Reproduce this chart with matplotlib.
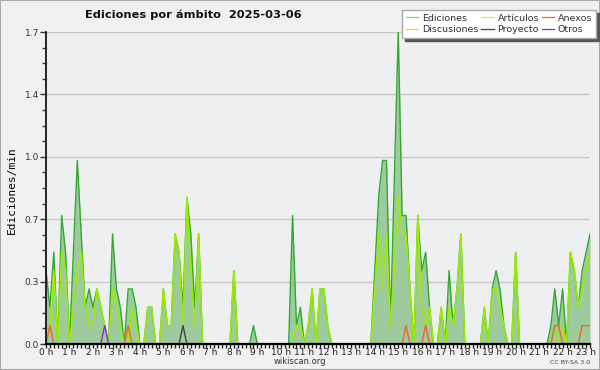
import numpy as np
import matplotlib
matplotlib.use("Agg")
import matplotlib.pyplot as plt
from matplotlib.lines import Line2D
from matplotlib.patches import Rectangle
from matplotlib.ticker import MultipleLocator

# edits per minute, one value per 10 minutes, starting at 0 h
title = "Ediciones por ámbito  2025-03-06"
hour_labels = [f"{h} h" for h in range(24)]
y_max = 1.7

ediciones = [
    0.4, 0.2, 0.5, 0, 0.7, 0.5, 0, 0.5, 1.0, 0.6, 0.2, 0.3,
    0.2, 0.3, 0.2, 0.1, 0, 0.6, 0.3, 0.2, 0, 0.3, 0.3, 0.2,
    0, 0, 0.2, 0.2, 0, 0, 0.3, 0.1, 0.1, 0.6, 0.5, 0.2,
    0.8, 0.6, 0.2, 0.6, 0, 0, 0, 0, 0, 0, 0, 0,
    0.4, 0, 0, 0, 0, 0.1, 0, 0, 0, 0, 0, 0,
    0, 0, 0, 0.7, 0.1, 0.2, 0, 0.1, 0.3, 0, 0.3, 0.3,
    0.1, 0, 0, 0, 0, 0, 0, 0, 0, 0, 0, 0,
    0.4, 0.8, 1.0, 1.0, 0.1, 0.9, 1.7, 0.7, 0.7, 0.3, 0, 0.7,
    0.4, 0.5, 0.2, 0, 0, 0.2, 0, 0.4, 0.1, 0.3, 0.6, 0,
    0, 0, 0, 0, 0.2, 0, 0.3, 0.4, 0.3, 0.1, 0, 0,
    0.5, 0, 0, 0, 0, 0, 0, 0, 0, 0.1, 0.3, 0.1,
    0.3, 0, 0.5, 0.4, 0.2, 0.4, 0.5, 0.6,
]
articulos = [
    0.1, 0.1, 0.4, 0, 0.5, 0.4, 0, 0.2, 0.4, 0.5, 0.2, 0.1,
    0.1, 0.3, 0.2, 0.1, 0, 0.3, 0.2, 0.1, 0, 0, 0.2, 0.1,
    0, 0, 0.2, 0.2, 0, 0, 0.3, 0.1, 0.1, 0.6, 0.5, 0.1,
    0.8, 0.4, 0.1, 0.6, 0, 0, 0, 0, 0, 0, 0, 0,
    0.4, 0, 0, 0, 0, 0, 0, 0, 0, 0, 0, 0,
    0, 0, 0, 0, 0.1, 0.1, 0, 0.1, 0.3, 0, 0.3, 0.3,
    0.1, 0, 0, 0, 0, 0, 0, 0, 0, 0, 0, 0,
    0.3, 0.6, 0.3, 0.6, 0.1, 0.4, 0.8, 0.6, 0.6, 0.3, 0, 0.7,
    0.2, 0.1, 0.2, 0, 0, 0.2, 0, 0.2, 0.1, 0.3, 0.6, 0,
    0, 0, 0, 0, 0.2, 0, 0.3, 0.3, 0.2, 0.1, 0, 0,
    0.5, 0, 0, 0, 0, 0, 0, 0, 0, 0, 0.1, 0,
    0.1, 0, 0.5, 0.4, 0.2, 0.3, 0.4, 0.5,
]
anexos = [
    0, 0.1, 0, 0, 0, 0, 0, 0, 0, 0, 0, 0,
    0, 0, 0, 0, 0, 0, 0, 0, 0, 0.1, 0, 0,
    0, 0, 0, 0, 0, 0, 0, 0, 0, 0, 0, 0,
    0, 0, 0, 0, 0, 0, 0, 0, 0, 0, 0, 0,
    0, 0, 0, 0, 0, 0, 0, 0, 0, 0, 0, 0,
    0, 0, 0, 0, 0, 0, 0, 0, 0, 0, 0, 0,
    0, 0, 0, 0, 0, 0, 0, 0, 0, 0, 0, 0,
    0, 0, 0, 0, 0, 0, 0, 0, 0.1, 0, 0, 0,
    0, 0.1, 0, 0, 0, 0, 0, 0, 0, 0, 0, 0,
    0, 0, 0, 0, 0, 0, 0, 0, 0, 0, 0, 0,
    0, 0, 0, 0, 0, 0, 0, 0, 0, 0, 0.1, 0.1,
    0, 0, 0, 0, 0, 0.1, 0.1, 0.1,
]
discusiones = [
    0, 0, 0, 0, 0, 0, 0, 0, 0, 0, 0, 0,
    0, 0, 0, 0, 0, 0, 0, 0, 0, 0, 0, 0,
    0, 0, 0, 0, 0, 0, 0, 0, 0, 0, 0, 0,
    0, 0, 0, 0, 0, 0, 0, 0, 0, 0, 0, 0,
    0, 0, 0, 0, 0, 0, 0, 0, 0, 0, 0, 0,
    0, 0, 0, 0, 0, 0, 0, 0, 0, 0, 0, 0,
    0, 0, 0, 0, 0, 0, 0, 0, 0, 0, 0, 0,
    0, 0, 0, 0, 0, 0, 0, 0, 0, 0, 0, 0,
    0, 0, 0, 0, 0, 0, 0, 0, 0, 0, 0, 0,
    0, 0, 0, 0, 0, 0, 0, 0, 0, 0, 0, 0,
    0, 0, 0, 0, 0, 0, 0, 0, 0, 0, 0, 0,
    0, 0, 0, 0, 0, 0, 0, 0,
]
proyecto = [
    0, 0, 0, 0, 0, 0, 0, 0, 0, 0, 0, 0,
    0, 0, 0, 0, 0, 0, 0, 0, 0, 0, 0, 0,
    0, 0, 0, 0, 0, 0, 0, 0, 0, 0, 0, 0.1,
    0, 0, 0, 0, 0, 0, 0, 0, 0, 0, 0, 0,
    0, 0, 0, 0, 0, 0, 0, 0, 0, 0, 0, 0,
    0, 0, 0, 0, 0, 0, 0, 0, 0, 0, 0, 0,
    0, 0, 0, 0, 0, 0, 0, 0, 0, 0, 0, 0,
    0, 0, 0, 0, 0, 0, 0, 0, 0, 0, 0, 0,
    0, 0, 0, 0, 0, 0, 0, 0, 0, 0, 0, 0,
    0, 0, 0, 0, 0, 0, 0, 0, 0, 0, 0, 0,
    0, 0, 0, 0, 0, 0, 0, 0, 0, 0, 0, 0,
    0, 0, 0, 0, 0, 0, 0, 0,
]
otros = [
    0, 0, 0, 0, 0, 0, 0, 0, 0, 0, 0, 0,
    0, 0, 0, 0.1, 0, 0, 0, 0, 0, 0, 0, 0,
    0, 0, 0, 0, 0, 0, 0, 0, 0, 0, 0, 0,
    0, 0, 0, 0, 0, 0, 0, 0, 0, 0, 0, 0,
    0, 0, 0, 0, 0, 0, 0, 0, 0, 0, 0, 0,
    0, 0, 0, 0, 0, 0, 0, 0, 0, 0, 0, 0,
    0, 0, 0, 0, 0, 0, 0, 0, 0, 0, 0, 0,
    0, 0, 0, 0, 0, 0, 0, 0, 0, 0, 0, 0,
    0, 0, 0, 0, 0, 0, 0, 0, 0, 0, 0, 0,
    0, 0, 0, 0, 0, 0, 0, 0, 0, 0, 0, 0,
    0, 0, 0, 0, 0, 0, 0, 0, 0, 0, 0, 0,
    0, 0, 0, 0, 0, 0, 0, 0,
]

# time axis in hours (10 minute bins)
x = np.arange(len(ediciones)) / 6.0


def hide_flat_zero(vals):
    # the runs lying on the baseline are hidden behind the axis in the original
    v = np.array(vals, dtype=float)
    prev = np.r_[0.0, v[:-1]]
    nxt = np.r_[v[1:], 0.0]
    out = v.copy()
    out[(v == 0) & (prev == 0) & (nxt == 0)] = np.nan
    return out


c_ed = "#33a833"
c_fill = "#9ecb9e"
c_art = "#9fec00"
c_anx = "#f26522"
c_dis = "#ffcc33"
c_pro = "#444444"
c_otr = "#8a2be2"

fig = plt.figure(figsize=(6, 3.7), dpi=100, facecolor="#f0f0f0")
ax = fig.add_axes([46 / 600, 26 / 370, 544 / 600, 312 / 370])
ax.set_facecolor("#eeeff1")

ax.fill_between(x, ediciones, 0, color=c_fill, lw=0, zorder=2)
ax.plot(x, hide_flat_zero(ediciones), color=c_ed, lw=1.0, zorder=3)
ax.plot(x, hide_flat_zero(articulos), color=c_art, lw=1.1, zorder=4)
ax.plot(x, hide_flat_zero(discusiones), color=c_dis, lw=1.0, zorder=4)
ax.plot(x, hide_flat_zero(proyecto), color=c_pro, lw=1.0, zorder=5)
ax.plot(x, hide_flat_zero(anexos), color=c_anx, lw=1.0, zorder=5)
ax.plot(x, hide_flat_zero(otros), color=c_otr, lw=1.0, zorder=5)

ax.set_xlim(0, x[-1])
ax.set_ylim(0, y_max)

yt = np.linspace(0, y_max, 6)
ax.set_yticks(yt)
ax.set_yticklabels([f"{v:.1f}" for v in yt])
ax.yaxis.set_minor_locator(MultipleLocator(y_max / 20))
ax.set_xticks(range(24))
ax.set_xticklabels(hour_labels)
ax.xaxis.set_minor_locator(MultipleLocator(1 / 6))

ax.tick_params(axis="y", which="major", labelsize=6.5, colors="#333333",
               length=4, width=1, pad=1)
ax.tick_params(axis="y", which="minor", length=3, width=1, color="#333333")
ax.tick_params(axis="x", which="major", labelsize=6.5, colors="#222222",
               length=3, width=1, pad=0)
ax.tick_params(axis="x", which="minor", length=3, width=1, color="#222222")

ax.yaxis.grid(True, color="#c8c8c8", lw=1)
ax.set_axisbelow(True)
for s in ["top", "right"]:
    ax.spines[s].set_visible(False)
ax.spines["left"].set_linewidth(1.2)
ax.spines["bottom"].set_linewidth(1.6)
ax.spines["left"].set_zorder(10)
ax.spines["bottom"].set_zorder(10)

fig.text(85 / 600, 1 - 15 / 370, title, fontsize=8.2,
         family="DejaVu Sans", weight="bold",
         ha="left", va="center", color="#111111")
fig.text(12 / 600, 1 - 190 / 370, "Ediciones/min", rotation=90,
         family="DejaVu Sans Mono", fontsize=8, ha="center", va="center")
fig.text(300 / 600, 1 - 362 / 370, "wikiscan.org", fontsize=6,
         ha="center", va="center", color="#333333")
fig.text(590 / 600, 1 - 362 / 370, "CC BY-SA 3.0", fontsize=4.5,
         ha="right", va="center", color="#444444")

handles = [
    Line2D([], [], color="#7fd07f", lw=0.9),
    Line2D([], [], color=c_dis, lw=0.9),
    Line2D([], [], color="#c8f060", lw=0.9),
    Line2D([], [], color=c_pro, lw=0.9),
    Line2D([], [], color=c_anx, lw=0.9),
    Line2D([], [], color=c_otr, lw=0.9),
]
labels = ["Ediciones", "Discusiones", "Artículos", "Proyecto", "Anexos", "Otros"]
leg = fig.legend(handles, labels, ncol=3, loc="upper right",
                 bbox_to_anchor=(596 / 600, 1 - 10 / 370), fontsize=6.8,
                 frameon=True, fancybox=False, framealpha=1,
                 shadow={"color": "#555555", "alpha": 1},
                 edgecolor="#aaaaaa", handlelength=1.3, handletextpad=0.4,
                 columnspacing=0.3, labelspacing=0.25, borderpad=0.4,
                 borderaxespad=0)
for t in leg.get_texts():
    t.set_color("#333333")

fig.patches.append(Rectangle((0, 0), 1, 1, transform=fig.transFigure,
                             fill=False, edgecolor="#aaaaaa", lw=1.5))

fig.savefig("out.png", dpi=100, facecolor=fig.get_facecolor())
